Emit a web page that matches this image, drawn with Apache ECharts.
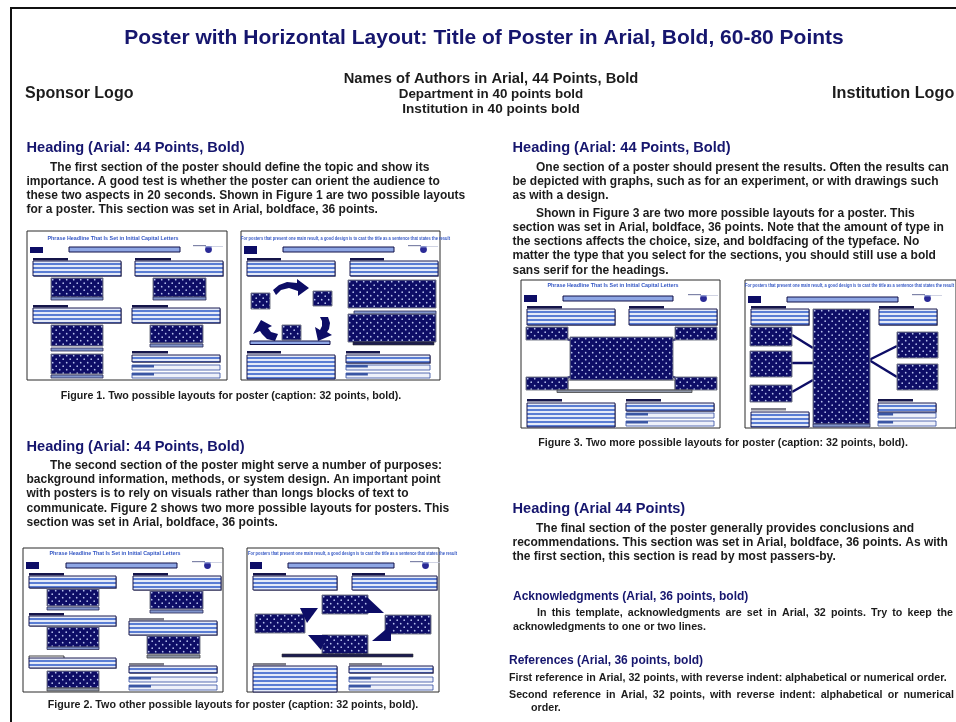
<!DOCTYPE html>
<html><head><meta charset="utf-8">
<script src="https://cdn.jsdelivr.net/npm/echarts@6/dist/echarts.min.js"></script>
<style>html,body{margin:0;padding:0;background:#fff}#c{width:956px;height:722px}</style>
</head><body><div id="c"></div>
<script>
// ---------- texts (content) ----------
const titleText = 'Poster with Horizontal Layout: Title of Poster in Arial, Bold, 60-80 Points';
const authorLines = ['Names of Authors in Arial, 44 Points, Bold', 'Department in 40 points bold', 'Institution in 40 points bold'];
const logoLabels = ['Sponsor Logo', 'Institution Logo'];
const headings = ['Heading (Arial: 44 Points, Bold)', 'Heading (Arial: 44 Points, Bold)', 'Heading (Arial: 44 Points, Bold)', 'Heading (Arial 44 Points)'];
const sec1Lines = [
  'The first section of the poster should define the topic and show its',
  'importance. A good test is whether the poster can orient the audience to',
  'these two aspects in 20 seconds. Shown in Figure 1 are two possible layouts',
  'for a poster. This section was set in Arial, boldface, 36 points.'];
const sec2Lines = [
  'The second section of the poster might serve a number of purposes:',
  'background information, methods, or system design. An important point',
  'with posters is to rely on visuals rather than longs blocks of text to',
  'communicate. Figure 2 shows two more possible layouts for posters. This',
  'section was set in Arial, boldface, 36 points.'];
const sec3aLines = [
  'One section of a poster should present the results. Often the results can',
  'be depicted with graphs, such as for an experiment, or with drawings such',
  'as with a design.'];
const sec3bLines = [
  'Shown in Figure 3 are two more possible layouts for a poster. This',
  'section was set in Arial, boldface, 36 points. Note that the amount of type in',
  'the sections affects the choice, size, and boldfacing of the typeface. No',
  'matter the type that you select for the sections, you should still use a bold',
  'sans serif for the headings.'];
const sec4Lines = [
  'The final section of the poster generally provides conclusions and',
  'recommendations. This section was set in Arial, boldface, 36 points. As with',
  'the first section, this section is read by most passers-by.'];
const captions = [
  'Figure 1. Two possible layouts for poster (caption: 32 points, bold).',
  'Figure 2. Two other possible layouts for poster (caption: 32 points, bold).',
  'Figure 3. Two more possible layouts for poster (caption: 32 points, bold).'];
const ackHeading = 'Acknowledgments (Arial, 36 points, bold)';
const ackLines = ['In this template, acknowledgments are set in Arial, 32 points. Try to keep the', 'acknowledgments to one or two lines.'];
const refHeading = 'References (Arial, 36 points, bold)';
const refLines = ['First reference in Arial, 32 points, with reverse indent: alphabetical or numerical order.',
  'Second reference in Arial, 32 points, with reverse indent: alphabetical or numerical', 'order.'];
const thumbTitles = ['Phrase Headline That Is Set in Initial Capital Letters',
  'For posters that present one main result, a good design is to cast the title as a sentence that states the result'];

// ---------- drawing helpers ----------
const NAVY = '#0d0d66', HEAD = '#16166e', INK = '#1c1c1c';
const FAM = '"Liberation Sans", Arial, sans-serif';
const mctx = document.createElement('canvas').getContext('2d');
function fnt(size) { return 'bold ' + size + 'px ' + FAM; }
function measure(s, size) { mctx.font = fnt(size); return mctx.measureText(s).width; }
const els = [];
function txt(s, x, y, size, color, align, sx) {
  return { type: 'text', x: x, y: y, scaleX: sx || 1, silent: true,
    style: { text: s, font: fnt(size), fill: color || INK, textAlign: align || 'left', align: align || 'left',
      textVerticalAlign: 'middle', verticalAlign: 'middle' } };
}
function justify(s, x0, x1, y, size, color) {
  const words = s.split(' ');
  const tot = words.reduce((a, w) => a + measure(w, size), 0);
  const gap = (x1 - x0 - tot) / (words.length - 1);
  let x = x0;
  words.forEach(w => { els.push(txt(w, x, y, size, color)); x += measure(w, size) + gap; });
}
function para(lines, x, indent, y0, dy, size) {
  lines.forEach((l, i) => els.push(txt(l, i === 0 ? x + indent : x, y0 + i * dy, size, INK)));
}

function patCanvas(kind) {
  const c = document.createElement('canvas');
  const g = c.getContext('2d');
  if (kind === 'dots') {
    c.width = 7; c.height = 7;
    g.fillStyle = NAVY; g.fillRect(0, 0, 7, 7);
    g.fillStyle = '#b8c2ee';
    [[1.7, 1.7], [5.2, 5.2]].forEach(p => { g.beginPath(); g.arc(p[0], p[1], 0.85, 0, 7); g.fill(); });
  } else {
    c.width = 4; c.height = 4;
    g.fillStyle = '#e4eaf8'; g.fillRect(0, 0, 4, 4);
    g.fillStyle = '#5a7dd4'; g.fillRect(0, 2, 4, 2);
  }
  return c;
}
const dotPat = { image: patCanvas('dots'), repeat: 'repeat' };
const stripePat = { image: patCanvas('stripe'), repeat: 'repeat' };
function R(x, y, w, h, style) { return { type: 'rect', x: x, y: y, shape: { x: 0, y: 0, width: w, height: h }, style: style, silent: true }; }

function thumb(ox, oy, w, h, items) {
  els.push(R(ox, oy, w, h, { fill: '#fff', stroke: '#2a2a2a', lineWidth: 1 }));
  items.forEach(it => {
    const t = it[0], a = it.slice(1);
    const X = ox + (a[0] || 0), Y = oy + (a[1] || 0);
    switch (t) {
      case 'hdr': els.push(R(X, Y, a[2], 2.5, { fill: '#15154a' })); break;
      case 'hdrG': els.push(R(X, Y, a[2], 2.5, { fill: '#80808a' })); break;
      case 'hdrW': els.push(R(X, Y, a[2], 2.5, { fill: '#fff', stroke: '#111', lineWidth: 0.8 })); break;
      case 'stripe':
        els.push(R(X + 1, Y + 1, a[2], a[3], { fill: '#9a9aa4' }));
        els.push(R(X, Y, a[2], a[3], { fill: stripePat, stroke: '#1b1b50', lineWidth: 1 })); break;
      case 'dots': els.push(R(X, Y, a[2], a[3], { fill: dotPat, stroke: '#777a88', lineWidth: 1 })); break;
      case 'cap': els.push(R(X, Y, a[2], a[3], { fill: '#8195cc', stroke: '#2a2a55', lineWidth: 0.8 })); break;
      case 'capN': els.push(R(X, Y, a[2], a[3], { fill: '#1c1c50', stroke: '#333', lineWidth: 0.6 })); break;
      case 'capG': els.push(R(X, Y, a[2], a[3], { fill: '#8e96a8', stroke: '#444', lineWidth: 0.8 })); break;
      case 'navy': els.push(R(X, Y, a[2], a[3], { fill: NAVY })); break;
      case 'top': els.push(R(X, Y, a[2], a[3], { fill: '#8ea6e4', stroke: '#101048', lineWidth: 1 })); break;
      case 'white': els.push(R(X, Y, a[2], a[3], { fill: '#fff', stroke: '#333', lineWidth: 0.8 })); break;
      case 'sbar':
        els.push(R(X, Y, a[2], a[3], { fill: '#eef1fa', stroke: '#2d4aa0', lineWidth: 0.8 }));
        els.push(R(X, Y, Math.min(22, a[2] * 0.26), a[3] / 2, { fill: '#3a56a4' })); break;
      case 'logo':
        els.push(R(X, Y + 1, 13, 1.2, { fill: '#7f84a8' }));
        els.push(R(X + 13, Y + 2, 17, 0.8, { fill: '#c4c8dc' }));
        els.push({ type: 'circle', silent: true, shape: { cx: X + 15.5, cy: Y + 5.5, r: 3.4 }, style: { fill: '#2a2a96' } });
        els.push(R(X + 12, Y + 2.2, 7, 1.2, { fill: '#9aa6d8' })); break;
      case 'ttl': {
        const s = a[2], tw = a[3], al = a[4];
        const sx = tw / measure(s, 5);
        els.push(txt(s, X, Y, 5, '#3457c4', al, sx)); break;
      }
      case 'poly': els.push({ type: 'polygon', silent: true, shape: { points: a[0].map(p => [ox + p[0], oy + p[1]]) }, style: { fill: NAVY } }); break;
      case 'line': els.push({ type: 'line', silent: true, shape: { x1: ox + a[0], y1: oy + a[1], x2: ox + a[2], y2: oy + a[3] }, style: { stroke: NAVY, lineWidth: a[4] } }); break;
    }
  });
}

// ---------- frame ----------
els.push(R(10, 7, 946, 2, { fill: '#111' }));
els.push(R(10, 7, 2, 715, { fill: '#111' }));

// ---------- header ----------
els.push(txt(titleText, 484, 38, 21, HEAD, 'center'));
els.push(txt(authorLines[0], 491, 79, 14.7, INK, 'center'));
els.push(txt(authorLines[1], 491, 94.5, 13.4, INK, 'center'));
els.push(txt(authorLines[2], 491, 109.5, 13.6, INK, 'center'));
els.push(txt(logoLabels[0], 25, 94, 16, INK, 'left'));
els.push(txt(logoLabels[1], 832, 94, 16.2, INK, 'left'));

// ---------- left column ----------
els.push(txt(headings[0], 26.5, 147.5, 14.6, HEAD));
para(sec1Lines, 26.5, 23.5, 167.2, 14.1, 12);
els.push(txt(captions[0], 231, 396.5, 10.7, INK, 'center'));
els.push(txt(headings[1], 26.5, 446.5, 14.6, HEAD));
para(sec2Lines, 26.5, 23.5, 465.2, 14.4, 12);
els.push(txt(captions[1], 233, 705, 10.7, INK, 'center'));

// ---------- right column ----------
els.push(txt(headings[2], 512.5, 147.5, 14.6, HEAD));
para(sec3aLines, 512.5, 23.5, 167.2, 14, 12);
para(sec3bLines, 512.5, 23.5, 213.8, 14.1, 12);
els.push(txt(captions[2], 723, 443, 10.7, INK, 'center'));
els.push(txt(headings[3], 512.5, 509, 14.6, HEAD));
para(sec4Lines, 512.5, 23.5, 528.3, 14.3, 12);
els.push(txt(ackHeading, 513, 596.7, 12, HEAD));
justify(ackLines[0], 537, 953, 613.3, 10.7, INK);
els.push(txt(ackLines[1], 513, 626.7, 10.7, INK));
els.push(txt(refHeading, 509, 661, 12, HEAD));
els.push(txt(refLines[0], 509, 678.3, 10.7, INK));
justify(refLines[1], 509, 954, 695, 10.7, INK);
els.push(txt(refLines[2], 531, 708.3, 10.7, INK));

// ---------- thumbnails (layout sketches) ----------
// Fig 1 left
thumb(27, 231, 200, 149, [
  ['ttl', 86, 8, thumbTitles[0], 131, 'center'], ['navy', 3, 16, 13, 6], ['top', 42, 16, 111, 5], ['logo', 166, 13],
  ['hdr', 6, 27, 35], ['stripe', 6, 30, 88, 15], ['dots', 24, 47, 52, 19], ['cap', 24, 66, 52, 3],
  ['hdr', 6, 74, 35], ['stripe', 6, 77, 88, 15], ['dots', 24, 94, 52, 21], ['cap', 24, 117, 52, 3],
  ['dots', 24, 123, 52, 20], ['cap', 24, 144, 52, 3],
  ['hdr', 108, 27, 36], ['stripe', 108, 30, 88, 15], ['dots', 126, 47, 53, 19], ['cap', 126, 66, 53, 3],
  ['hdr', 105, 74, 36], ['stripe', 105, 77, 88, 15], ['dots', 123, 94, 53, 18], ['cap', 123, 113, 53, 3],
  ['hdr', 105, 120, 36], ['stripe', 105, 124, 88, 7], ['sbar', 105, 134, 88, 5], ['sbar', 105, 142, 88, 5]
]);
// Fig 1 right
thumb(241, 231, 199, 149, [
  ['ttl', 0, 8, thumbTitles[1], 209, 'left'], ['navy', 3, 15, 13, 8], ['top', 42, 16, 111, 5], ['logo', 167, 13],
  ['hdr', 6, 27, 34], ['stripe', 6, 30, 88, 15], ['hdr', 109, 27, 34], ['stripe', 109, 30, 88, 15],
  ['dots', 10, 62, 19, 16], ['dots', 72, 60, 19, 15], ['dots', 41, 94, 19, 15],
  ['poly', [[32, 59], [38, 54], [46, 51], [56, 52], [56, 48], [68, 57], [57, 65], [57, 60], [48, 57], [40, 59], [35, 64]]],
  ['poly', [[79, 86], [87, 86], [89, 92], [88, 98], [86, 101], [91, 104], [77, 110], [74, 96], [79, 99], [81, 95], [81, 90]]],
  ['poly', [[20, 89], [31, 95], [27, 97], [30, 101], [37, 103], [34, 110], [26, 108], [21, 103], [19, 100], [12, 103]]],
  ['top', 9, 110, 80, 3.5],
  ['dots', 107, 49, 88, 28], ['cap', 113, 80, 82, 3], ['dots', 107, 83, 88, 28], ['capN', 112, 111, 81, 3],
  ['hdr', 6, 120, 34], ['stripe', 6, 124, 88, 24],
  ['hdr', 105, 120, 34], ['stripe', 105, 124, 84, 8], ['sbar', 105, 134, 84, 5], ['sbar', 105, 142, 84, 5]
]);
// Fig 2 left
thumb(23, 548, 200, 144, [
  ['ttl', 92, 6, thumbTitles[0], 131, 'center'], ['navy', 3, 14, 13, 7], ['top', 43, 15, 111, 5], ['logo', 169, 12],
  ['hdr', 6, 25, 35], ['stripe', 6, 28, 87, 12], ['dots', 24, 41, 52, 17], ['cap', 24, 59, 52, 3],
  ['hdr', 6, 65, 35], ['stripe', 6, 68, 87, 10], ['dots', 24, 79, 52, 20], ['cap', 24, 99, 52, 2.5],
  ['hdrW', 6, 108, 35], ['stripe', 6, 110, 87, 10], ['dots', 24, 123, 52, 17], ['capG', 24, 140, 52, 3],
  ['hdr', 110, 25, 35], ['stripe', 110, 28, 88, 14], ['dots', 127, 43, 53, 18], ['cap', 127, 62, 53, 3],
  ['hdrG', 106, 70, 35], ['stripe', 106, 73, 88, 14], ['dots', 124, 88, 53, 18], ['capG', 124, 107, 53, 3],
  ['hdrG', 106, 115, 35], ['stripe', 106, 118, 88, 7], ['sbar', 106, 129, 88, 5], ['sbar', 106, 137, 88, 5]
]);
// Fig 2 right
thumb(247, 548, 192, 144, [
  ['ttl', 1, 6, thumbTitles[1], 209, 'left'], ['navy', 3, 14, 12, 7], ['top', 41, 15, 106, 5], ['logo', 163, 12],
  ['hdr', 6, 25, 33], ['stripe', 6, 28, 84, 14], ['hdr', 105, 25, 33], ['stripe', 105, 28, 85, 14],
  ['dots', 75, 47, 46, 19], ['dots', 8, 66, 50, 19], ['dots', 138, 67, 46, 19], ['dots', 75, 87, 46, 19],
  ['poly', [[53, 60], [71, 60], [60, 75]]], ['poly', [[120, 49], [137, 65], [120, 65]]],
  ['poly', [[144, 77], [144, 93], [125, 93]]], ['poly', [[61, 87], [81, 87], [74, 102]]],
  ['capN', 35, 106, 131, 3],
  ['hdrG', 6, 115, 33], ['stripe', 6, 118, 84, 26],
  ['hdrG', 102, 115, 33], ['stripe', 102, 118, 84, 7], ['sbar', 102, 129, 84, 5], ['sbar', 102, 137, 84, 5]
]);
// Fig 3 left
thumb(521, 280, 199, 148, [
  ['ttl', 92, 6, thumbTitles[0], 131, 'center'], ['navy', 3, 15, 13, 7], ['top', 42, 16, 110, 5], ['logo', 167, 13],
  ['hdr', 6, 26, 35], ['stripe', 6, 29, 88, 16], ['hdr', 108, 26, 35], ['stripe', 108, 29, 88, 16],
  ['white', 47, 100, 107, 10],
  ['line', 44, 58, 51, 61, 2], ['line', 157, 58, 150, 61, 2], ['line', 44, 99, 51, 96, 2], ['line', 157, 99, 150, 96, 2],
  ['dots', 5, 47, 42, 13], ['dots', 154, 47, 42, 13], ['dots', 49, 57, 103, 43],
  ['dots', 5, 97, 42, 13], ['dots', 154, 97, 42, 13],
  ['capG', 36, 110, 135, 2.5],
  ['hdr', 6, 119, 35], ['stripe', 6, 123, 88, 24],
  ['hdr', 105, 119, 35], ['stripe', 105, 123, 88, 8], ['sbar', 105, 133, 88, 5], ['sbar', 105, 141, 88, 5]
]);
// Fig 3 right
thumb(745, 280, 211, 148, [
  ['ttl', 0, 6, thumbTitles[1], 209, 'left'], ['navy', 3, 16, 13, 7], ['top', 42, 17, 111, 5], ['logo', 167, 13],
  ['hdr', 6, 26, 35], ['stripe', 6, 29, 58, 16],
  ['line', 47, 55, 68, 68, 2.5], ['line', 47, 83, 68, 83, 2.5], ['line', 47, 112, 68, 100, 2.5],
  ['line', 124, 80, 152, 66, 2.5], ['line', 124, 80, 152, 97, 2.5],
  ['dots', 68, 29, 57, 115], ['cap', 68, 144, 57, 3],
  ['dots', 5, 47, 42, 19], ['dots', 5, 71, 42, 26], ['dots', 5, 105, 42, 17],
  ['hdr', 134, 26, 35], ['stripe', 134, 29, 58, 16],
  ['dots', 152, 52, 41, 26], ['dots', 152, 84, 41, 26],
  ['hdrG', 6, 128, 35], ['stripe', 6, 132, 58, 15],
  ['hdr', 133, 119, 35], ['stripe', 133, 123, 58, 9], ['sbar', 133, 133, 58, 5], ['sbar', 133, 141, 58, 5]
]);

const chart = echarts.init(document.getElementById('c'), null, { renderer: 'canvas' });
chart.setOption({ animation: false, backgroundColor: '#fff', graphic: { elements: els } });
</script></body></html>
